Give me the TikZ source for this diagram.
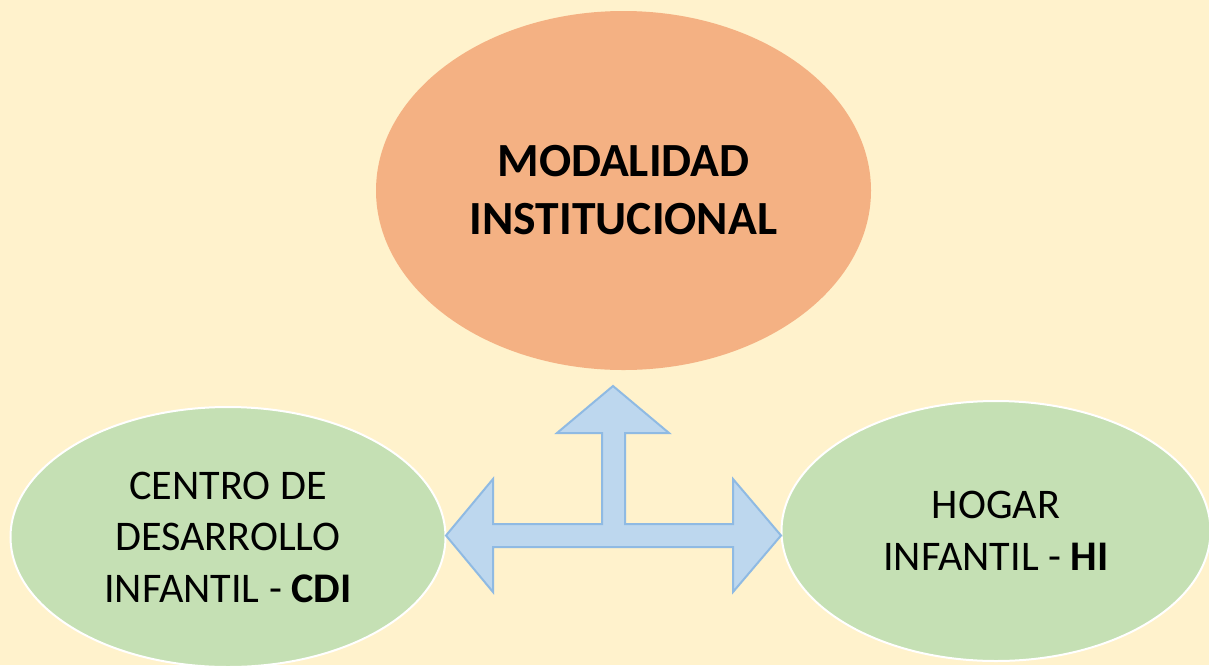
\documentclass[tikz,border=0pt]{standalone}
\usepackage{fontspec}
\setmainfont{Carlito}
\usetikzlibrary{shapes.geometric}
\definecolor{bgc}{HTML}{FFF2CC}
\definecolor{orangec}{HTML}{F4B183}
\definecolor{greenc}{HTML}{C5E0B4}
\definecolor{arrowfill}{HTML}{BDD7EE}
\definecolor{arrowline}{HTML}{8FBAE3}
\tikzset{
  oval/.style={ellipse, inner sep=0pt, outer sep=0pt, align=center},
  topoval/.style={oval, fill=orangec, minimum width=495pt, minimum height=359pt,
    font=\fontsize{47.6}{58}\selectfont\bfseries},
  sideoval/.style={oval, fill=greenc, draw=white, line width=2pt,
    font=\fontsize{42.2}{51.5}\selectfont},
  blockarrow/.style={fill=arrowfill, draw=arrowline, line width=2pt, line join=miter}
}
\begin{document}
\begin{tikzpicture}[x=1pt,y=-1pt]
\fill[bgc] (0,0) rectangle (1209,665);
\useasboundingbox (0,0) rectangle (1209,665);
\node[topoval] (top) at (623.5,190.5) {MODALIDAD\\INSTITUCIONAL};
\node[sideoval, minimum width=435pt, minimum height=260pt] (cdi) at (228,537)
  {CENTRO DE\\DESARROLLO\\INFANTIL - \textbf{CDI}};
\node[sideoval, minimum width=429pt, minimum height=260pt] (hi) at (996,531)
  {HOGAR\\INFANTIL - \textbf{HI}};
\draw[blockarrow] (613,386) -- (669,433) -- (625,433) -- (625,524) -- (733,524)
  -- (733,479) -- (781,535.5) -- (733,592) -- (733,547) -- (493,547)
  -- (493,592) -- (446,535.5) -- (493,479) -- (493,524) -- (602,524)
  -- (602,433) -- (557,433) -- cycle;
\end{tikzpicture}
\end{document}
